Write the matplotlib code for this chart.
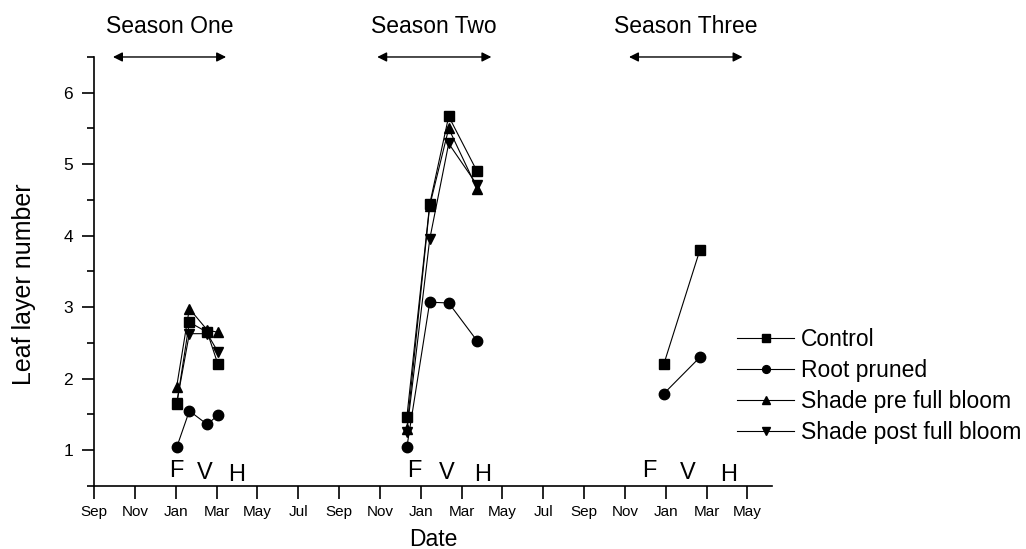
import numpy as np
import matplotlib
matplotlib.use("Agg")
import matplotlib.pyplot as plt
from matplotlib.ticker import MultipleLocator

plt.rcParams['font.family'] = ['Liberation Sans', 'DejaVu Sans']

# x positions in months counted from the first September
season_x = [
    [4.05, 4.67, 5.55, 6.06],
    [15.32, 16.44, 17.37, 18.76],
    [27.9, 29.67],
]

control = [[1.64, 2.79, 2.65, 2.21], [1.46, 4.44, 5.67, 4.90], [2.20, 3.80]]
root_pruned = [[1.04, 1.55, 1.36, 1.49], [1.04, 3.07, 3.06, 2.53], [1.79, 2.30]]
shade_pre = [[1.89, 2.98, 2.68, 2.65], [1.30, 4.42, 5.50, 4.66], None]
shade_post = [[1.66, 2.63, 2.63, 2.38], [1.26, 3.95, 5.29, 4.71], None]

series_names = ['Control', 'Root pruned', 'Shade pre full bloom', 'Shade post full bloom']
series_markers = ['s', 'o', '^', 'v']

tick_months = ['Sep', 'Nov', 'Jan', 'Mar', 'May', 'Jul'] * 2 + ['Sep', 'Nov', 'Jan', 'Mar', 'May']

# F / V / H stage marks for each season
stage_labels = ['F', 'V', 'H']
stage_x = [[4.02, 5.44, 6.99], [15.69, 17.29, 19.01], [27.17, 29.1, 31.06]]
stage_y = [0.71, 0.68, 0.66]

season_names = ['Season One', 'Season Two', 'Season Three']
season_arrows = [(0.93, 6.47), (13.87, 19.46), (26.2, 31.76)]

fig = plt.figure(figsize=(10.26, 5.49), dpi=100)
ax = fig.add_axes([0.0916, 0.1148, 0.6608, 0.7814])

all_series = [control, root_pruned, shade_pre, shade_post]
for data, name, mk in zip(all_series, series_names, series_markers):
    first = True
    for xs, ys in zip(season_x, data):
        if ys is None:
            continue
        ax.plot(xs, ys, color='black', lw=0.8, marker=mk, markersize=7.5,
                markerfacecolor='black', markeredgecolor='black',
                label=name if first else None)
        first = False

ax.set_xlim(0, 33.2)
ax.set_ylim(0.5, 6.5)
ax.set_xticks(np.arange(0, 33, 2))
ax.set_xticklabels(tick_months, fontsize=11)
ax.yaxis.set_major_locator(MultipleLocator(1))
ax.set_yticks(np.arange(0.5, 6.6, 1.0), minor=True)
ax.tick_params(axis='y', which='major', direction='out', length=9, width=1.2, labelsize=12.5, pad=6)
ax.tick_params(axis='y', which='minor', direction='out', length=5, width=1.2)
ax.tick_params(axis='x', which='major', direction='out', length=9, width=1.2, pad=5)

for s in ['top', 'right']:
    ax.spines[s].set_visible(False)
for s in ['left', 'bottom']:
    ax.spines[s].set_linewidth(1.2)

ax.set_xlabel('Date', fontsize=16.5, labelpad=6)
ax.set_ylabel('Leaf layer number', fontsize=18)
ax.yaxis.set_label_coords(-0.085, 0.47)

for sx in stage_x:
    for lab, x, y in zip(stage_labels, sx, stage_y):
        ax.text(x, y, lab, fontsize=17, ha='center', va='center')

trans = ax.get_xaxis_transform()
for name, (x0, x1) in zip(season_names, season_arrows):
    ax.annotate('', xy=(x0, 1.0), xytext=(x1, 1.0), xycoords=trans, textcoords=trans,
                arrowprops=dict(arrowstyle='<|-|>', color='black', lw=1.0,
                                mutation_scale=14, shrinkA=0, shrinkB=0),
                annotation_clip=False)
    ax.text((x0 + x1) / 2, 1.07, name, transform=trans, fontsize=16.5,
            ha='center', va='center', clip_on=False)

ax.legend(loc='center left', bbox_to_anchor=(0.935, 0.232), frameon=False,
          fontsize=16.5, handlelength=2.5, handletextpad=0.3, labelspacing=0.35,
          markerscale=0.75, borderaxespad=0)

fig.savefig('out.png', dpi=100)
